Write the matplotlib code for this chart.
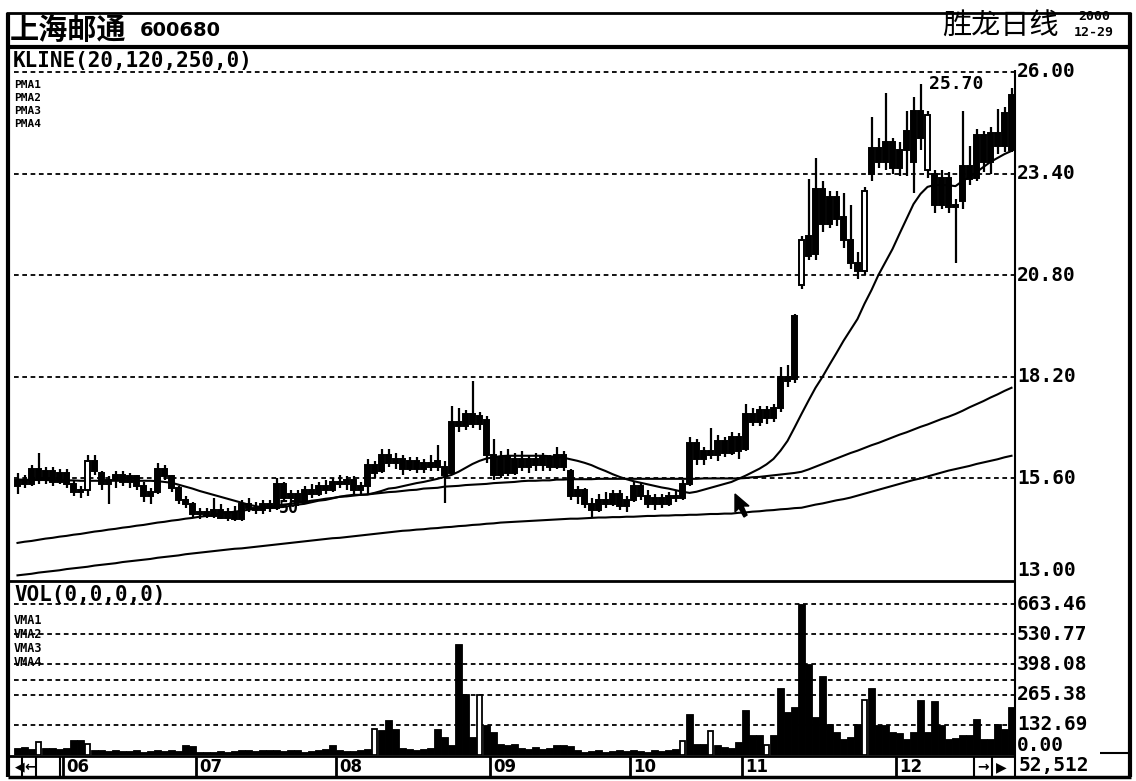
import matplotlib
matplotlib.use("Agg")
import matplotlib.pyplot as plt
from matplotlib.lines import Line2D
from matplotlib.patches import Rectangle, Polygon
from matplotlib.transforms import blended_transform_factory

# 上海邮通 600680 日线 2000-05 ~ 2000-12-29 (读自扫描图)
opens = [
    15.40, 15.55, 15.45, 15.85, 15.55, 15.80, 15.50, 15.75, 15.45, 15.25,
    15.30, 16.05, 15.75, 15.45, 15.55, 15.70, 15.50, 15.65, 15.40, 15.15,
    15.25, 15.85, 15.65, 15.35, 15.05, 14.95, 14.70, 14.75, 14.65, 14.80,
    14.60, 14.75, 14.55, 14.95, 14.85, 14.80, 14.95, 14.85, 15.45, 15.10,
    15.20, 15.00, 15.30, 15.20, 15.40, 15.30, 15.50, 15.45, 15.55, 15.30,
    15.40, 15.95, 15.80, 16.20, 16.00, 16.10, 15.85, 16.05, 15.85, 16.00,
    15.90, 15.90, 15.75, 17.05, 16.95, 17.25, 17.00, 17.10, 16.20, 15.70,
    16.15, 15.75, 16.10, 15.90, 16.10, 15.95, 16.15, 15.90, 16.20, 15.80,
    15.15, 15.30, 14.95, 14.80, 15.05, 14.95, 15.20, 14.90, 15.05, 15.40,
    15.15, 14.95, 15.10, 14.95, 15.15, 15.10, 15.45, 16.50, 16.10, 16.30,
    16.20, 16.55, 16.25, 16.65, 16.35, 17.25, 17.05, 17.35, 17.15, 17.40,
    18.20, 18.15, 20.55, 21.80, 21.35, 23.00, 22.10, 22.80, 22.30, 21.70,
    21.10, 20.90, 23.40, 24.05, 23.70, 24.20, 23.55, 24.00, 23.70, 25.00,
    23.50, 23.40, 22.60, 23.30, 22.60, 22.70, 23.60, 23.30, 24.40, 23.70,
    24.45, 24.10, 24.00,
]
highs = [
    15.75, 15.70, 15.95, 16.25, 15.90, 15.90, 15.85, 15.85, 15.55, 15.40,
    16.20, 16.20, 15.80, 15.65, 15.80, 15.80, 15.75, 15.70, 15.50, 15.35,
    16.00, 15.95, 15.70, 15.40, 15.15, 15.00, 14.85, 14.85, 15.10, 14.95,
    14.85, 14.90, 15.05, 15.10, 15.00, 15.05, 15.05, 15.60, 15.50, 15.30,
    15.30, 15.40, 15.45, 15.50, 15.55, 15.60, 15.70, 15.65, 15.65, 15.50,
    16.10, 16.05, 16.35, 16.35, 16.25, 16.20, 16.15, 16.15, 16.10, 16.20,
    16.45, 16.05, 17.45, 17.40, 17.35, 18.10, 17.30, 17.20, 16.60, 16.30,
    16.35, 16.25, 16.30, 16.20, 16.25, 16.25, 16.20, 16.40, 16.30, 15.85,
    15.40, 15.35, 15.10, 15.20, 15.25, 15.30, 15.30, 15.15, 15.50, 15.50,
    15.30, 15.20, 15.20, 15.25, 15.30, 15.55, 16.65, 16.60, 16.40, 16.90,
    16.70, 16.65, 16.80, 16.75, 17.50, 17.40, 17.45, 17.45, 17.50, 18.45,
    18.50, 19.82, 21.80, 23.25, 23.80, 23.20, 22.95, 22.95, 22.90, 22.60,
    21.40, 23.05, 24.85, 24.30, 25.45, 24.30, 24.20, 25.00, 25.35, 25.70,
    25.00, 23.50, 23.50, 23.45, 22.75, 25.00, 24.10, 24.55, 24.50, 24.60,
    25.05, 25.10, 25.60,
]
lows = [
    15.20, 15.35, 15.40, 15.45, 15.45, 15.40, 15.45, 15.35, 15.15, 15.10,
    15.15, 15.70, 15.30, 14.95, 15.35, 15.40, 15.35, 15.30, 15.00, 14.95,
    15.20, 15.55, 15.25, 14.95, 14.85, 14.60, 14.55, 14.60, 14.60, 14.55,
    14.50, 14.52, 14.52, 14.75, 14.70, 14.70, 14.75, 14.80, 15.00, 14.90,
    14.90, 14.95, 15.10, 15.15, 15.20, 15.25, 15.35, 15.30, 15.15, 15.20,
    15.20, 15.60, 15.75, 15.90, 15.85, 15.70, 15.80, 15.75, 15.75, 15.80,
    15.80, 14.98, 15.70, 16.80, 16.85, 16.90, 16.85, 16.00, 15.55, 15.60,
    15.65, 15.70, 15.80, 15.75, 15.80, 15.80, 15.80, 15.85, 15.80, 15.05,
    14.95, 14.85, 14.60, 14.75, 14.85, 14.90, 14.80, 14.75, 15.00, 15.05,
    14.85, 14.80, 14.85, 14.90, 15.00, 15.05, 15.40, 15.95, 15.95, 16.10,
    16.05, 16.15, 16.20, 16.10, 16.30, 16.95, 16.95, 17.00, 17.05, 17.30,
    17.95, 18.05, 20.45, 21.20, 21.20, 21.90, 22.00, 22.05, 21.50, 20.95,
    20.70, 20.80, 23.20, 23.55, 23.50, 23.40, 23.35, 23.35, 22.90, 24.00,
    23.30, 22.40, 22.50, 22.40, 21.10, 22.50, 23.10, 23.20, 23.45, 23.40,
    23.90, 23.95, 23.95,
]
closes = [
    15.55, 15.45, 15.85, 15.55, 15.80, 15.50, 15.75, 15.45, 15.25, 15.30,
    16.05, 15.80, 15.45, 15.55, 15.70, 15.50, 15.65, 15.40, 15.15, 15.25,
    15.85, 15.65, 15.35, 15.05, 14.95, 14.70, 14.75, 14.65, 14.80, 14.60,
    14.75, 14.55, 14.95, 14.85, 14.80, 14.95, 14.85, 15.45, 15.10, 15.20,
    15.00, 15.30, 15.20, 15.40, 15.30, 15.50, 15.45, 15.55, 15.30, 15.40,
    15.95, 15.75, 16.20, 16.00, 16.10, 15.85, 16.05, 15.85, 16.00, 15.90,
    16.05, 15.70, 17.05, 16.95, 17.25, 17.00, 17.20, 16.20, 15.70, 16.15,
    15.75, 16.10, 15.90, 16.10, 15.95, 16.15, 15.90, 16.20, 15.90, 15.15,
    15.30, 14.95, 14.80, 15.05, 14.95, 15.20, 14.90, 15.05, 15.40, 15.15,
    14.95, 15.10, 14.95, 15.15, 15.10, 15.45, 16.50, 16.10, 16.30, 16.20,
    16.55, 16.25, 16.65, 16.30, 17.25, 17.05, 17.35, 17.15, 17.40, 18.20,
    18.10, 19.75, 21.70, 21.30, 23.00, 22.10, 22.80, 22.25, 21.70, 21.10,
    20.90, 22.95, 24.05, 23.70, 24.20, 23.55, 24.00, 24.50, 25.00, 24.30,
    24.90, 22.60, 23.30, 22.55, 22.55, 23.60, 23.25, 24.40, 23.70, 24.45,
    24.10, 24.95, 25.40,
]
volumes = [
    30, 35, 28, 57, 30, 32, 28, 30, 66, 66,
    49, 20, 22, 18, 20, 16, 18, 20, 15, 18,
    22, 18, 20, 16, 44, 40, 15, 12, 14, 16,
    12, 18, 22, 20, 18, 22, 20, 24, 18, 20,
    22, 15, 18, 20, 25, 44, 20, 16, 18, 22,
    28, 115, 110, 155, 115, 30, 25, 22, 28, 30,
    115, 80, 44, 486, 270, 80, 265, 133, 102, 49,
    45, 49, 30, 28, 35, 25, 30, 44, 44, 40,
    20, 15, 18, 20, 15, 18, 20, 16, 22, 18,
    15, 20, 18, 22, 25, 62, 181, 49, 49, 106,
    44, 35, 30, 57, 199, 88, 88, 45, 88, 296,
    190, 212, 663.46, 398, 168, 349, 137, 100, 71, 80,
    137, 243, 296, 133, 133, 100, 95, 71, 100, 243,
    100, 239, 133, 71, 75, 88, 88, 159, 71, 71,
    137, 115, 212,
]
ma20 = [
    15.57, 15.57, 15.56, 15.56, 15.56, 15.55, 15.55, 15.55, 15.55, 15.54,
    15.54, 15.54, 15.54, 15.54, 15.54, 15.54, 15.54, 15.54, 15.54, 15.54,
    15.53, 15.51, 15.49, 15.44, 15.39, 15.34, 15.28, 15.23, 15.18, 15.13,
    15.08, 15.03, 14.98, 14.93, 14.89, 14.86, 14.85, 14.86, 14.87, 14.90,
    14.93, 14.95, 14.99, 15.03, 15.05, 15.09, 15.13, 15.16, 15.18, 15.18,
    15.19, 15.23, 15.28, 15.34, 15.36, 15.40, 15.44, 15.48, 15.51, 15.55,
    15.59, 15.64, 15.69, 15.77, 15.87, 15.97, 16.05, 16.11, 16.14, 16.17,
    16.18, 16.18, 16.18, 16.18, 16.18, 16.18, 16.17, 16.15, 16.13, 16.09,
    16.05, 16.00, 15.94, 15.86, 15.79, 15.71, 15.64, 15.58, 15.53, 15.49,
    15.45, 15.41, 15.37, 15.34, 15.30, 15.26, 15.23, 15.26, 15.31, 15.36,
    15.41, 15.46, 15.51, 15.59, 15.67, 15.76, 15.85, 15.96, 16.10, 16.31,
    16.56, 16.90, 17.25, 17.59, 17.92, 18.20, 18.51, 18.81, 19.12, 19.40,
    19.68, 20.07, 20.42, 20.81, 21.14, 21.47, 21.86, 22.24, 22.62, 22.88,
    23.06, 23.11, 23.11, 23.10, 23.08, 23.21, 23.31, 23.44, 23.57, 23.70,
    23.80, 23.90, 23.98,
]
ma120 = [
    13.95, 13.98, 14.00, 14.03, 14.06, 14.08, 14.11, 14.13, 14.16, 14.18,
    14.21, 14.24, 14.26, 14.29, 14.31, 14.34, 14.36, 14.39, 14.41, 14.44,
    14.47, 14.49, 14.52, 14.54, 14.57, 14.59, 14.62, 14.64, 14.67, 14.70,
    14.72, 14.75, 14.77, 14.80, 14.82, 14.85, 14.87, 14.90, 14.93, 14.95,
    14.98, 15.00, 15.03, 15.05, 15.08, 15.10, 15.13, 15.14, 15.16, 15.18,
    15.19, 15.21, 15.23, 15.25, 15.26, 15.28, 15.30, 15.31, 15.34, 15.35,
    15.36, 15.39, 15.40, 15.41, 15.43, 15.44, 15.45, 15.46, 15.48, 15.49,
    15.50, 15.51, 15.53, 15.54, 15.54, 15.55, 15.55, 15.57, 15.57, 15.58,
    15.58, 15.58, 15.58, 15.59, 15.59, 15.59, 15.59, 15.59, 15.59, 15.59,
    15.59, 15.59, 15.59, 15.59, 15.59, 15.59, 15.59, 15.59, 15.60, 15.60,
    15.60, 15.60, 15.60, 15.60, 15.61, 15.63, 15.64, 15.66, 15.68, 15.70,
    15.72, 15.74, 15.77, 15.83, 15.90, 15.97, 16.04, 16.11, 16.18, 16.25,
    16.31, 16.38, 16.45, 16.51, 16.58, 16.65, 16.72, 16.78, 16.85, 16.92,
    16.98, 17.05, 17.12, 17.18, 17.25, 17.33, 17.42, 17.50, 17.58, 17.67,
    17.75, 17.84, 17.92,
]
ma250 = [
    13.12, 13.14, 13.16, 13.19, 13.21, 13.23, 13.25, 13.28, 13.30, 13.32,
    13.34, 13.37, 13.39, 13.41, 13.43, 13.46, 13.48, 13.50, 13.52, 13.54,
    13.57, 13.59, 13.61, 13.63, 13.66, 13.68, 13.70, 13.72, 13.74, 13.76,
    13.78, 13.80, 13.81, 13.83, 13.85, 13.87, 13.89, 13.91, 13.93, 13.95,
    13.97, 13.99, 14.01, 14.03, 14.05, 14.07, 14.08, 14.10, 14.12, 14.14,
    14.16, 14.18, 14.20, 14.22, 14.24, 14.26, 14.27, 14.29, 14.30, 14.32,
    14.33, 14.35, 14.36, 14.38, 14.39, 14.41, 14.42, 14.44, 14.45, 14.47,
    14.48, 14.49, 14.50, 14.51, 14.52, 14.53, 14.54, 14.55, 14.56, 14.57,
    14.57, 14.58, 14.59, 14.60, 14.60, 14.61, 14.61, 14.62, 14.62, 14.63,
    14.64, 14.64, 14.65, 14.65, 14.66, 14.66, 14.67, 14.67, 14.68, 14.69,
    14.69, 14.70, 14.70, 14.72, 14.73, 14.75, 14.76, 14.78, 14.79, 14.81,
    14.82, 14.84, 14.85, 14.89, 14.93, 14.96, 15.00, 15.04, 15.07, 15.11,
    15.16, 15.21, 15.26, 15.31, 15.36, 15.41, 15.46, 15.51, 15.56, 15.60,
    15.65, 15.70, 15.75, 15.80, 15.84, 15.88, 15.92, 15.97, 16.01, 16.05,
    16.09, 16.14, 16.18,
]
hollow_k = [10, 112, 121, 130]
hollow_v = [3, 10, 51, 66, 95, 99, 107, 121]

price_levels = [26.00, 23.40, 20.80, 18.20, 15.60]
price_labels = ["26.00", "23.40", "20.80", "18.20", "15.60", "13.00"]
vol_grid = [663.46, 530.77, 398.08, 331.73, 265.38, 132.69]
vol_labels = ["663.46", "530.77", "398.08", "265.38", "132.69", "0.00"]
vol_label_vals = [663.46, 530.77, 398.08, 265.38, 132.69, 0.0]
month_labels = ["06", "07", "08", "09", "10", "11", "12"]
month_starts = [7, 26, 46, 68, 88, 104, 126]

W, H = 1136, 781
CJK = ["Noto Sans CJK SC", "DejaVu Sans"]
MONO = "DejaVu Sans Mono"


def fx(x):
    return x / W


def fy(y):
    return 1 - y / H


def fline(fig, x0, y0, x1, y1, lw=1.5):
    fig.add_artist(Line2D([fx(x0), fx(x1)], [fy(y0), fy(y1)],
                          transform=fig.transFigure, color="black", lw=lw,
                          solid_capstyle="butt"))


fig = plt.figure(figsize=(W / 100, H / 100), dpi=100)
fig.patch.set_facecolor("white")

# panel geometry (pixels)
X0, X1 = 14, 1014
STEP = 7.0
xlim = (-0.5, -0.5 + (X1 - X0) / STEP)
PY26, PXU = 72, 39.08          # y of 26.00, pixels per yuan
K_TOP, K_BOT = 48, 581
V_TOP, V_BOT = 583, 755
VPX = 151 / 663.46             # pixels per volume unit

ax = fig.add_axes([fx(X0), fy(K_BOT), fx(X1) - fx(X0), fy(K_TOP) - fy(K_BOT)])
ax.set_xlim(*xlim)
ax.set_ylim(26 - (K_BOT - PY26) / PXU, 26 + (PY26 - K_TOP) / PXU)
ax.axis("off")

axv = fig.add_axes([fx(X0), fy(V_BOT), fx(X1) - fx(X0), fy(V_TOP) - fy(V_BOT)])
axv.set_xlim(*xlim)
axv.set_ylim(0, (V_BOT - V_TOP) / VPX)
axv.axis("off")

dash = dict(color="black", lw=1.3, dashes=(2.6, 2.0))
for lv in price_levels:
    ax.axhline(lv, **dash, zorder=1)
for lv in vol_grid:
    axv.axhline(lv, **dash, zorder=1)

# moving averages
idx = list(range(len(closes)))
for ma in (ma20, ma120, ma250):
    ax.plot(idx, ma, color="black", lw=1.5, zorder=2)

# candles
bw = 0.72
for i in idx:
    o, h, l, c = opens[i], highs[i], lows[i], closes[i]
    ax.vlines(i, l, h, color="black", lw=1.6, zorder=3)
    fc = "white" if i in hollow_k else "black"
    lo = min(o, c)
    ax.add_patch(Rectangle((i - bw / 2, lo), bw, max(abs(c - o), 0.04),
                           facecolor=fc, edgecolor="black", lw=1.4, zorder=4))

# volume bars
for i in idx:
    if i in hollow_v:
        axv.bar(i, volumes[i], width=0.75, facecolor="white", edgecolor="black",
                lw=1.3, zorder=3)
    else:
        axv.bar(i, volumes[i], width=1.0, facecolor="black", edgecolor="black",
                lw=0.6, zorder=3)

# high / low marks
ax.text(130.2, max(highs), "25.70", fontsize=13, fontweight="bold",
        family=MONO, va="center", ha="left", zorder=6,
        bbox=dict(facecolor="white", edgecolor="none", pad=0.5))
ax.text(37.4, 14.84, "50", fontsize=12, fontweight="bold", family=MONO,
        va="center", ha="left", zorder=6)

# right axis labels
trk = blended_transform_factory(fig.transFigure, ax.transData)
for lv, s in zip(price_levels + [13.0], price_labels):
    ax.text(fx(1017), lv, s, transform=trk, fontsize=14, fontweight="bold",
            family=MONO, va="bottom" if s == "13.00" else "center", ha="left",
            clip_on=False)
trv = blended_transform_factory(fig.transFigure, axv.transData)
for lv, s in zip(vol_label_vals, vol_labels):
    axv.text(fx(1017), lv, s, transform=trv, fontsize=14, fontweight="bold",
             family=MONO, va="bottom" if s == "0.00" else "center", ha="left",
             clip_on=False)

# panel titles
fig.text(fx(13), fy(61), "KLINE(20,120,250,0)", fontsize=15, fontweight="bold",
         family=MONO, va="center", ha="left")
for k, yy in enumerate([85, 98, 111, 124]):
    fig.text(fx(14), fy(yy), f"PMA{k + 1}", fontsize=8, fontweight="bold",
             family=MONO, va="center", ha="left")
fig.text(fx(14), fy(595), "VOL(0,0,0,0)", fontsize=15, fontweight="bold",
         family=MONO, va="center", ha="left")
for k, yy in enumerate([620, 634, 648, 662]):
    fig.text(fx(14), fy(yy), f"VMA{k + 1}", fontsize=8.5, fontweight="bold",
             family=MONO, va="center", ha="left")

# header
fig.text(fx(10), fy(30), "上海邮通", fontsize=21, fontweight="bold", family=CJK,
         va="center", ha="left")
fig.text(fx(140), fy(31), "600680", fontsize=14, fontweight="bold",
         family="DejaVu Sans", va="center", ha="left")
fig.text(fx(1059), fy(27), "胜龙日线", fontsize=21, family=CJK, va="center", ha="right")
fig.text(fx(1094), fy(16), "2000", fontsize=9.5, fontweight="bold", family=MONO,
         va="center", ha="center")
fig.text(fx(1094), fy(32), "12-29", fontsize=9.5, fontweight="bold", family=MONO,
         va="center", ha="center")

# frame
fline(fig, 6, 13, 1131, 13, 2.0)
fline(fig, 6, 47, 1131, 47, 3.0)
fline(fig, 8, 13, 8, 777, 3.0)
fline(fig, 1130, 13, 1130, 777, 3.0)
fline(fig, 8, 777, 1131, 777, 2.5)
fline(fig, 8, K_BOT, X1, K_BOT, 2.0)
fline(fig, 8, 756, X1, 756, 2.0)
fline(fig, 1100, 753, 1131, 753, 1.5)
fline(fig, X1 + 1, 70, X1 + 1, 777, 1.5)

# bottom strip: month cells and scroll buttons
for xx in (22, 36, 60):
    fline(fig, xx, 756, xx, 777, 1.5)
fig.text(fx(15), fy(767), "◀", fontsize=9, family="DejaVu Sans", va="center", ha="left")
fig.text(fx(24), fy(767), "←", fontsize=10, fontweight="bold", family="DejaVu Sans",
         va="center", ha="left")
for lab, m in zip(month_labels, month_starts):
    xm = X0 + STEP * m
    fline(fig, xm, 756, xm, 777, 2.0)
    fig.text(fx(xm + 3), fy(767), lab, fontsize=12, fontweight="bold",
             family="DejaVu Sans", va="center", ha="left")
for xx in (974, 992):
    fline(fig, xx, 756, xx, 777, 1.5)
fig.text(fx(977), fy(767), "→", fontsize=10, fontweight="bold", family="DejaVu Sans",
         va="center", ha="left")
fig.text(fx(996), fy(767), "▶", fontsize=10, family="DejaVu Sans", va="center", ha="left")
fig.text(fx(1019), fy(765), "52,512", fontsize=14, fontweight="bold", family=MONO,
         va="center", ha="left")

# mouse pointer left on the chart
cur = [(735, 494), (735, 512), (739, 508), (744, 517), (747, 515), (743, 506), (749, 506)]
fig.add_artist(Polygon([(fx(a), fy(b)) for a, b in cur], closed=True,
                       transform=fig.transFigure, facecolor="black", edgecolor="black"))

fig.savefig("out.png", dpi=100)
